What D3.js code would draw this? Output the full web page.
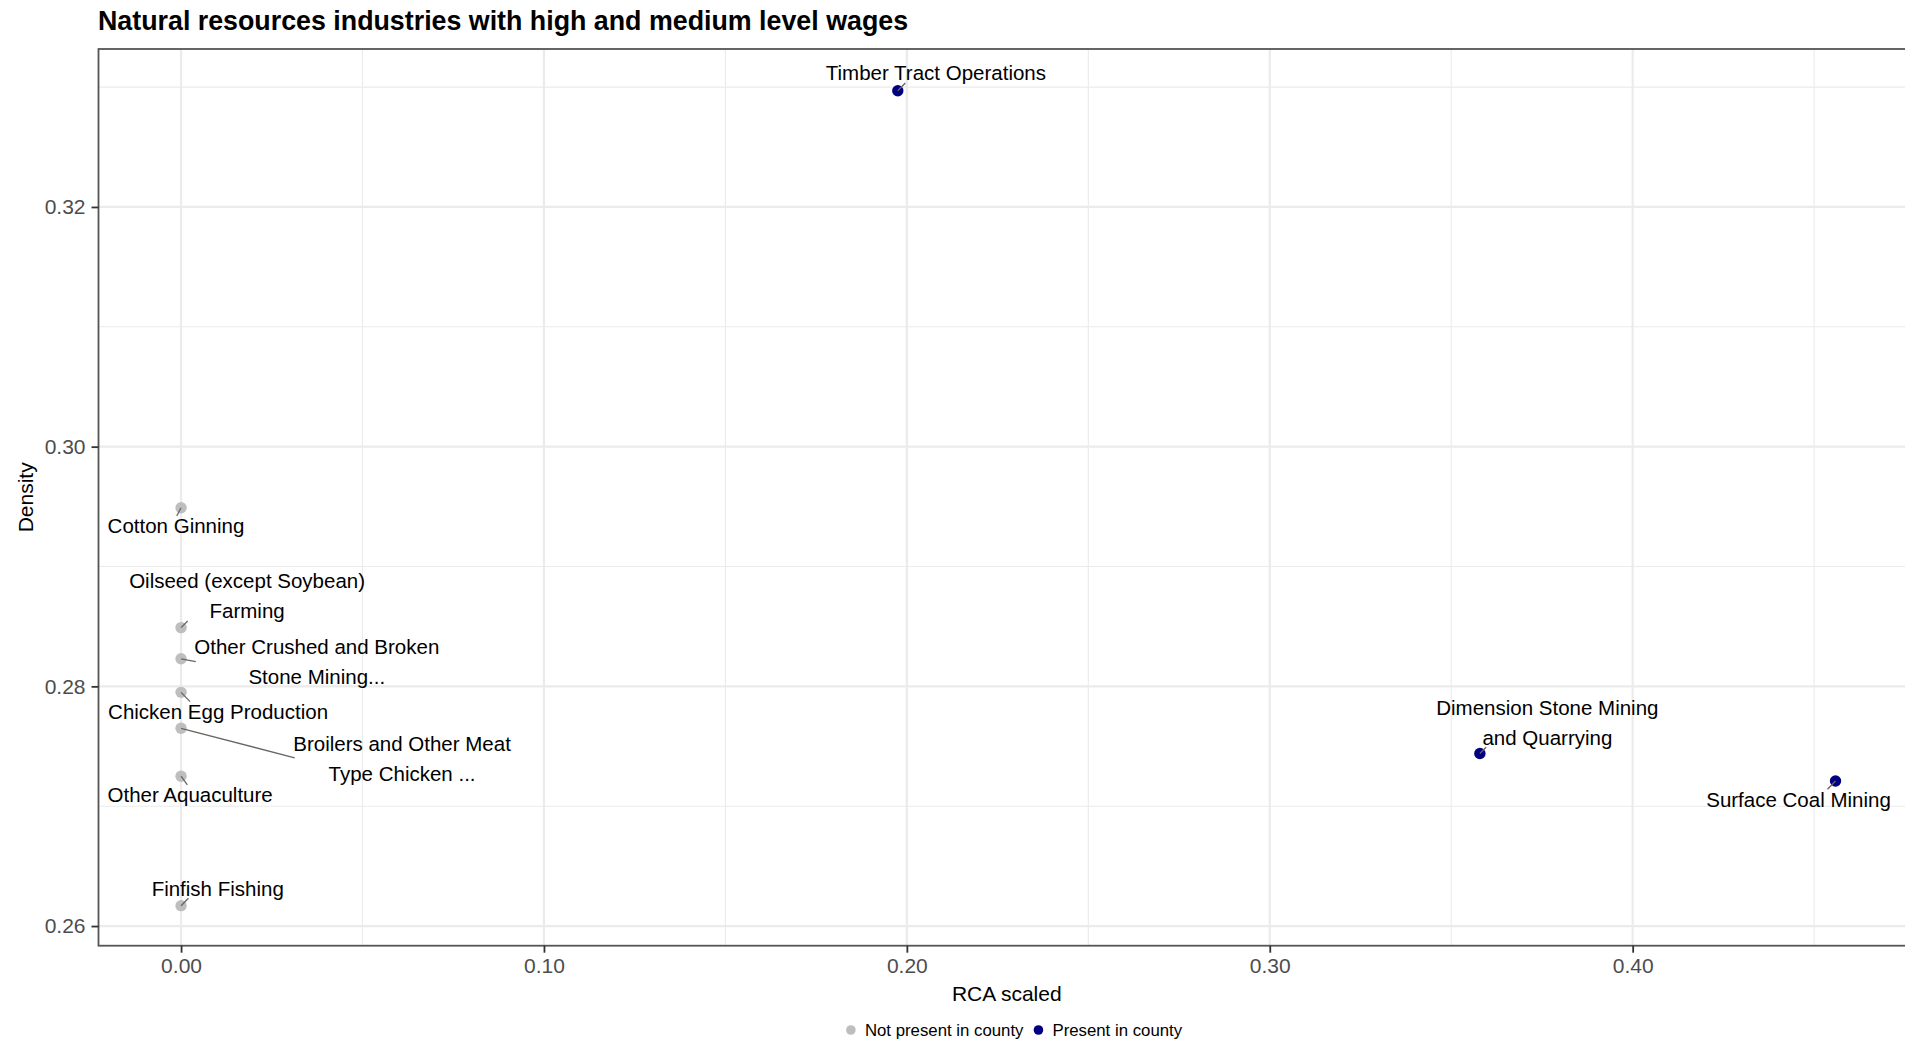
<!DOCTYPE html>
<html><head><meta charset="utf-8">
<script src="https://cdn.jsdelivr.net/npm/d3@7"></script>
<style>body{margin:0;background:#fff;overflow:hidden} svg{display:block;font-family:"Liberation Sans",Arial,Helvetica,sans-serif;}</style>
</head><body>
<svg id="chart" width="1905" height="1040"></svg>
<script>
// ---- data ----
const industries = ["Timber Tract Operations","Cotton Ginning","Oilseed (except Soybean)\nFarming","Other Crushed and Broken\nStone Mining...","Chicken Egg Production","Broilers and Other Meat\nType Chicken ...","Other Aquaculture","Finfish Fishing","Dimension Stone Mining\nand Quarrying","Surface Coal Mining"];
const rcaScaled = [0.1975,0,0,0,0,0,0,0,0.3579,0.4559];
const density = [0.3297,0.2949,0.2849,0.2823,0.2795,0.2765,0.2725,0.2617,0.2744,0.2721];
const presence = ["Present in county","Not present in county","Not present in county","Not present in county","Not present in county","Not present in county","Not present in county","Not present in county","Present in county","Present in county"];
const presenceLevels = ["Not present in county","Present in county"];
const xTicks = [0.00,0.10,0.20,0.30,0.40];
const xMinor = [0.05,0.15,0.25,0.35,0.45];
const yTicks = [0.26,0.28,0.30,0.32];
const yMinor = [0.27,0.29,0.31,0.33];
// ---- label placement (repelled label centres, data units) ----
const labelX = [0.2080,-0.0014,0.0182,0.0374,0.0102,0.0609,0.0025,0.0101,0.3765,0.4457];
const labelY = [0.33118,0.29338,0.28754,0.28206,0.27789,0.27397,0.27094,0.26316,0.27701,0.27058];

const svg = d3.select("#chart");
const W = 1905, H = 1040;
const panel = {left:98.5, right:1915, top:49, bottom:945.7};
const x = d3.scaleLinear().domain([-0.02275,0.4778]).range([panel.left,panel.right]);
const y = d3.scaleLinear().domain([0.25836,0.33318]).range([panel.bottom,panel.top]);
const color = d3.scaleOrdinal().domain(presenceLevels).range(["#bebebe","#000080"]);

svg.append("rect").attr("width",W).attr("height",H).attr("fill","#fff");

svg.append("defs").append("clipPath").attr("id","pclip").append("rect")
  .attr("x",panel.left).attr("y",panel.top).attr("width",panel.right-panel.left).attr("height",panel.bottom-panel.top);

const g = svg.append("g").attr("clip-path","url(#pclip)");
// grid
g.selectAll(".xminor").data(xMinor).join("line").attr("x1",d=>x(d)).attr("x2",d=>x(d))
  .attr("y1",panel.top).attr("y2",panel.bottom).attr("stroke","#ebebeb").attr("stroke-width",1.1);
g.selectAll(".yminor").data(yMinor).join("line").attr("y1",d=>y(d)).attr("y2",d=>y(d))
  .attr("x1",panel.left).attr("x2",panel.right).attr("stroke","#ebebeb").attr("stroke-width",1.1);
g.selectAll(".xmajor").data(xTicks).join("line").attr("x1",d=>x(d)).attr("x2",d=>x(d))
  .attr("y1",panel.top).attr("y2",panel.bottom).attr("stroke","#ebebeb").attr("stroke-width",2.2);
g.selectAll(".ymajor").data(yTicks).join("line").attr("y1",d=>y(d)).attr("y2",d=>y(d))
  .attr("x1",panel.left).attr("x2",panel.right).attr("stroke","#ebebeb").attr("stroke-width",2.2);

const idx = d3.range(industries.length);
const order = idx.slice().sort((a,b)=>presenceLevels.indexOf(presence[a])-presenceLevels.indexOf(presence[b]));
// points
g.selectAll(".pt").data(order).join("circle")
  .attr("cx",i=>x(rcaScaled[i])).attr("cy",i=>y(density[i])).attr("r",5.7)
  .attr("fill",i=>color(presence[i]));

// labels
const lineH = 30;
const segG = g.append("g");
const labG = g.append("g");
const labels = labG.selectAll("text").data(idx).join("text")
  .attr("font-size",20.5).attr("fill","#000").attr("text-anchor","middle");
labels.each(function(i){
  const lines = industries[i].split("\n");
  const cx = x(labelX[i]), cy = y(labelY[i]);
  const t = d3.select(this);
  lines.forEach((ln,k)=>{
    t.append("tspan").attr("x",cx).attr("y",cy + (k-(lines.length-1)/2)*lineH)
      .attr("dominant-baseline","central").text(ln);
  });
});
// segments (ggrepel-style connection)
labels.each(function(i){
  const bb = this.getBBox();
  const pad = -1.5;
  const b = [bb.x-pad, bb.y-pad, bb.x+bb.width+pad, bb.y+bb.height+pad];
  const px = x(rcaScaled[i]), py = y(density[i]);
  let ox, oy, left=false, right=false, top=false, bottom=false;
  if (px>=b[0] && px<=b[2]) ox=px; else if (px>b[2]) {ox=b[2];right=true;} else {ox=b[0];left=true;}
  if (py>=b[1] && py<=b[3]) oy=py; else if (py>b[3]) {oy=b[3];bottom=true;} else {oy=b[1];top=true;}
  const midx=(b[0]+b[2])/2, midy=(b[1]+b[3])/2;
  const d=Math.hypot(px-ox,py-oy);
  if ((top||bottom)&&!(left||right)) { const a=Math.hypot(px-midx,py-oy); ox=ox+(midx-ox)*d/a; }
  else if ((left||right)&&!(top||bottom)) { const a=Math.hypot(px-ox,py-midy); oy=oy+(midy-oy)*d/a; }
  else if ((left||right)&&(top||bottom)) {
    const a1=Math.hypot(px-midx,py-oy), a2=Math.hypot(px-ox,py-midy);
    if (a1<a2) ox=ox+(midx-ox)*d/a1; else oy=oy+(midy-oy)*d/a2;
  }
  if (d>0.5) segG.append("line").attr("x1",px).attr("y1",py).attr("x2",ox).attr("y2",oy)
    .attr("stroke","#666").attr("stroke-width",1.3);
});

// border
svg.append("rect").attr("x",panel.left).attr("y",panel.top).attr("width",panel.right-panel.left)
  .attr("height",panel.bottom-panel.top).attr("fill","none").attr("stroke","#555").attr("stroke-width",1.8);

// axes
const xAxis = svg.append("g").attr("transform",`translate(0,${panel.bottom})`)
  .call(d3.axisBottom(x).tickValues(xTicks).tickFormat(d3.format(".2f")).tickSize(7).tickPadding(5));
const yAxis = svg.append("g").attr("transform",`translate(${panel.left},0)`)
  .call(d3.axisLeft(y).tickValues(yTicks).tickFormat(d3.format(".2f")).tickSize(7).tickPadding(6));
[xAxis,yAxis].forEach(a=>{
  a.select(".domain").remove();
  a.selectAll(".tick line").attr("stroke","#333").attr("stroke-width",1.8);
  a.selectAll(".tick text").attr("font-size",21).attr("fill","#4d4d4d")
    .attr("font-family","Liberation Sans, Arial, sans-serif");
});

// titles
svg.append("text").attr("x",98).attr("y",30).attr("font-size",26.8).attr("font-weight","bold")
  .attr("fill","#000").text("Natural resources industries with high and medium level wages");
svg.append("text").attr("x",(panel.left+panel.right)/2).attr("y",993).attr("dominant-baseline","central")
  .attr("text-anchor","middle").attr("font-size",21).attr("fill","#000").text("RCA scaled");
svg.append("text").attr("transform",`translate(25,${(panel.top+panel.bottom)/2}) rotate(-90)`)
  .attr("dominant-baseline","central").attr("text-anchor","middle").attr("font-size",21).attr("fill","#000").text("Density");

// legend
const leg = svg.append("g");
let lx = 0;
presenceLevels.forEach((lv,k)=>{
  const it = leg.append("g").attr("transform",`translate(${lx},0)`);
  it.append("circle").attr("cx",5).attr("cy",0).attr("r",4.8).attr("fill",color(lv));
  const t = it.append("text").attr("x",19).attr("y",0).attr("dominant-baseline","central")
    .attr("font-size",16.8).attr("fill","#000").text(lv);
  lx += 19 + t.node().getComputedTextLength() + 10;
});
const legW = lx - 10;
leg.attr("transform",`translate(${1014 - legW/2},1030)`);
</script>
</body></html>
